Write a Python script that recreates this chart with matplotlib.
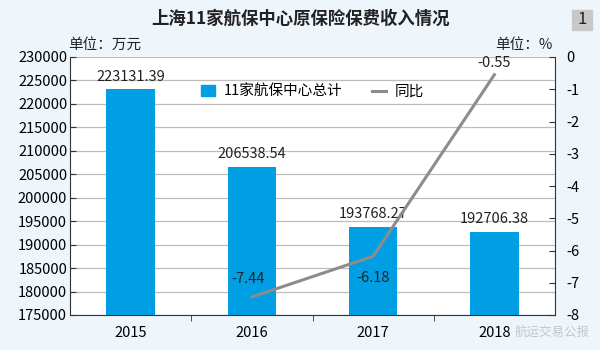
import numpy as np
import matplotlib.pyplot as plt
from matplotlib.patches import Rectangle
from matplotlib.lines import Line2D

plt.rcParams['font.family'] = ['Noto Sans CJK SC', 'DejaVu Sans']

years = ['2015', '2016', '2017', '2018']
premium = [223131.39, 206538.54, 193768.27, 192706.38]
yoy_years = ['2016', '2017', '2018']
yoy = [-7.44, -6.18, -0.55]

bar_color = '#009fe3'
line_color = '#8c8c8c'
bg = '#eef5fb'

fig = plt.figure(figsize=(6, 3.5), dpi=100, facecolor=bg)
ax = fig.add_axes([70 / 600, 35 / 350, 485 / 600, 258 / 350])
ax.set_facecolor('white')

x = np.arange(len(years))
ax.bar(x, premium, width=0.4, color=bar_color, zorder=2)
for xi, v in zip(x, premium):
    ax.text(xi, v + 1200, f'{v:.2f}', ha='center', va='bottom', fontsize=10.5, color='#222222')

ax.set_xlim(-0.5, 3.5)
ax.set_ylim(175000, 230000)
ax.set_yticks(np.arange(175000, 230001, 5000))
ax.set_yticklabels([str(v) for v in range(175000, 230001, 5000)], fontsize=10.5)
ax.set_xticks(x)
ax.set_xticklabels(years, fontsize=10.5)
ax.set_xticks([0.5, 1.5, 2.5], minor=True)
ax.tick_params(axis='x', which='major', length=0, pad=8)
ax.tick_params(axis='x', which='minor', length=4, direction='out', color='#333333')
ax.tick_params(axis='y', length=4, direction='in', pad=2, color='#333333')
ax.grid(axis='y', color='#bdbdbd', linewidth=0.9, zorder=0)
for s in ['top', 'right']:
    ax.spines[s].set_visible(False)
ax.spines['left'].set_color('#333333')
ax.spines['bottom'].set_color('#333333')

ax2 = ax.twinx()
xl = [years.index(y) for y in yoy_years]
ax2.plot(xl, yoy, color=line_color, linewidth=2.2, zorder=3)
ax2.set_ylim(-8, 0)
ax2.set_yticks(np.arange(-8, 1, 1))
ax2.set_yticklabels([str(v) for v in range(-8, 1)], fontsize=10.5)
ax2.tick_params(axis='y', length=4, direction='in', pad=8, color='#333333')
for s in ['top', 'left', 'bottom']:
    ax2.spines[s].set_visible(False)
ax2.spines['right'].set_color('#333333')

ax2.text(xl[0] - 0.03, yoy[0] + 0.35, f'{yoy[0]:.2f}', ha='center', va='bottom', fontsize=10.5, color='#222222')
ax2.text(xl[1], yoy[1] - 0.45, f'{yoy[1]:.2f}', ha='center', va='top', fontsize=10.5, color='#222222')
ax2.text(xl[2], yoy[2] + 0.15, f'{yoy[2]:.2f}', ha='center', va='bottom', fontsize=10.5, color='#222222')

handles = [Rectangle((0, 0), 1, 1, color=bar_color),
           Line2D([0], [0], color=line_color, linewidth=2.2)]
leg = ax2.legend(handles, ['11家航保中心总计', '同比'], loc='center', bbox_to_anchor=(0.5, 0.865),
                 ncol=2, frameon=False, fontsize=10.5, handlelength=1.0, handleheight=0.8,
                 columnspacing=2.0, handletextpad=0.6)

fig.text(0.5, 0.945, '上海11家航保中心原保险保费收入情况', ha='center', va='center',
         fontsize=12.5, fontweight='bold', color='#222222')
fig.patches.append(Rectangle((572 / 600, 1 - 30 / 350), 20 / 600, 20 / 350,
                             transform=fig.transFigure, color='#c8c8c8'))
fig.text(582 / 600, 1 - 20 / 350, '1', ha='center', va='center', fontsize=12, color='#222222')
fig.text(68 / 600, 1 - 45 / 350, '单位：万元', ha='left', va='center', fontsize=10.5, color='#222222')
fig.text(553 / 600, 1 - 45 / 350, '单位：%', ha='right', va='center', fontsize=10.5, color='#222222')
fig.text(590 / 600, 1 - 332 / 350, '航运交易公报', ha='right', va='center', fontsize=9,
         color='#bbbbbb', alpha=0.8)

fig.savefig('out.png', dpi=100, facecolor=bg)
